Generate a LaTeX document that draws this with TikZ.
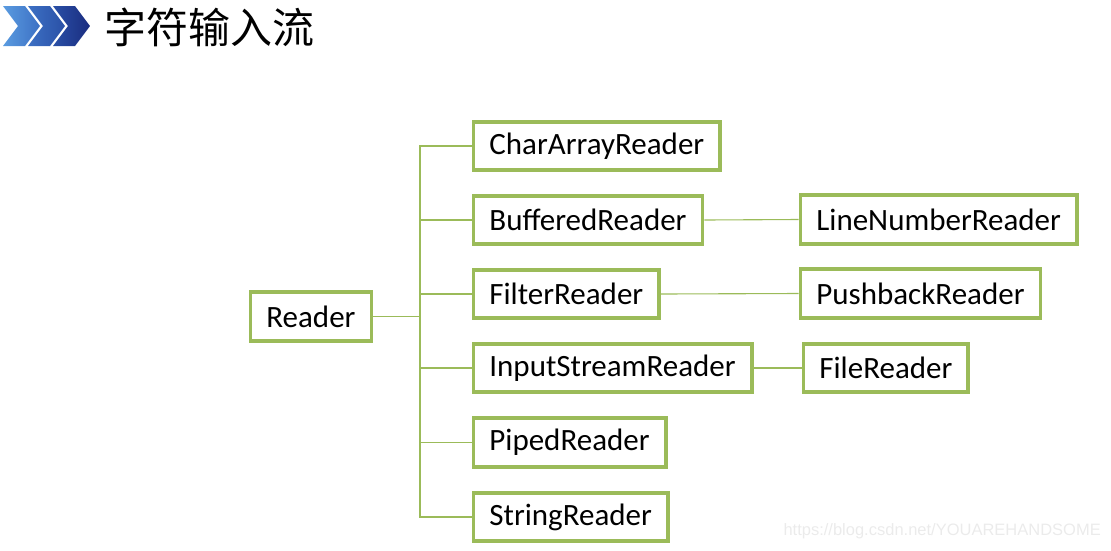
\documentclass[tikz,border=0pt]{standalone}
\usepackage{fontspec}
\newfontfamily\labelfont{Carlito}
\newfontfamily\cjkfont{Noto Sans CJK SC}
\newfontfamily\markfont{Liberation Sans}
\usepackage{tikz}
\usetikzlibrary{positioning}
\definecolor{boxgreen}{HTML}{9BBB59}
\definecolor{chA}{HTML}{5A9BE0}
\definecolor{chB}{HTML}{3C70C4}
\definecolor{chC}{HTML}{2A50A6}
\definecolor{chD}{HTML}{1A2C80}

\begin{document}
\begin{tikzpicture}
   [x=1pt, y=-1pt,
    cls/.style={draw=boxgreen, line width=3.8pt, minimum height=48.5pt,
                inner xsep=16pt, inner ysep=0pt, anchor=west,
                font=\labelfont\fontsize{31}{36}\selectfont},
    link/.style={draw=boxgreen, line width=1.1pt}]
     \useasboundingbox (0,0) rectangle (1111,550);
     % draw heading
     \foreach \x/\ca/\cb in {3/chA/chB, 28/chB/chC, 53/chC/chD} {
       \shade [left color=\ca, right color=\cb]
         (\x,6) -- ++(22,0) -- ++(15,20) -- ++(-15,20) -- ++(-22,0) -- ++(15,-20) -- cycle;
     };
     \node (title) at (104,27) [anchor=west, inner sep=0pt,
                               font=\cjkfont\fontsize{42}{42}\selectfont] {字符输入流};
     % draw root
     \node (reader) at (248.5,316.5) [cls] {Reader};
     % draw subclasses
     \foreach \name/\txt/\y in {chararr/CharArrayReader/146, buffered/BufferedReader/220,
                                filter/FilterReader/294, instream/InputStreamReader/368,
                                piped/PipedReader/442.5, string/StringReader/517} {
       \node (\name) at (471.5,\y) [cls] {\txt};
     };
     \node (linenum) at (798.5,219.5) [cls] {LineNumberReader};
     \node (pushback) at (798.5,293.5) [cls] {PushbackReader};
     \node (file) at (801.5,368) [cls] {FileReader};
     % draw edges
     \coordinate (bus) at (420,316.5);
     \draw [link] (reader.east) -- (bus);
     \foreach \name in {chararr, buffered, filter, instream, piped, string} {
       \draw [link] (bus) |- (\name.west);
     };
     \draw [link] (buffered.east) -- (linenum.west);
     \draw [link] (filter.east) -- (pushback.west);
     \draw [link] (instream.east) -- (file.west);
     \node (mark) at (1101,531) [anchor=east, inner sep=0pt, text=black!8,
                                font=\markfont\fontsize{16.5}{16.5}\selectfont] {https://blog.csdn.net/YOUAREHANDSOME};
 \end{tikzpicture}
\end{document}
